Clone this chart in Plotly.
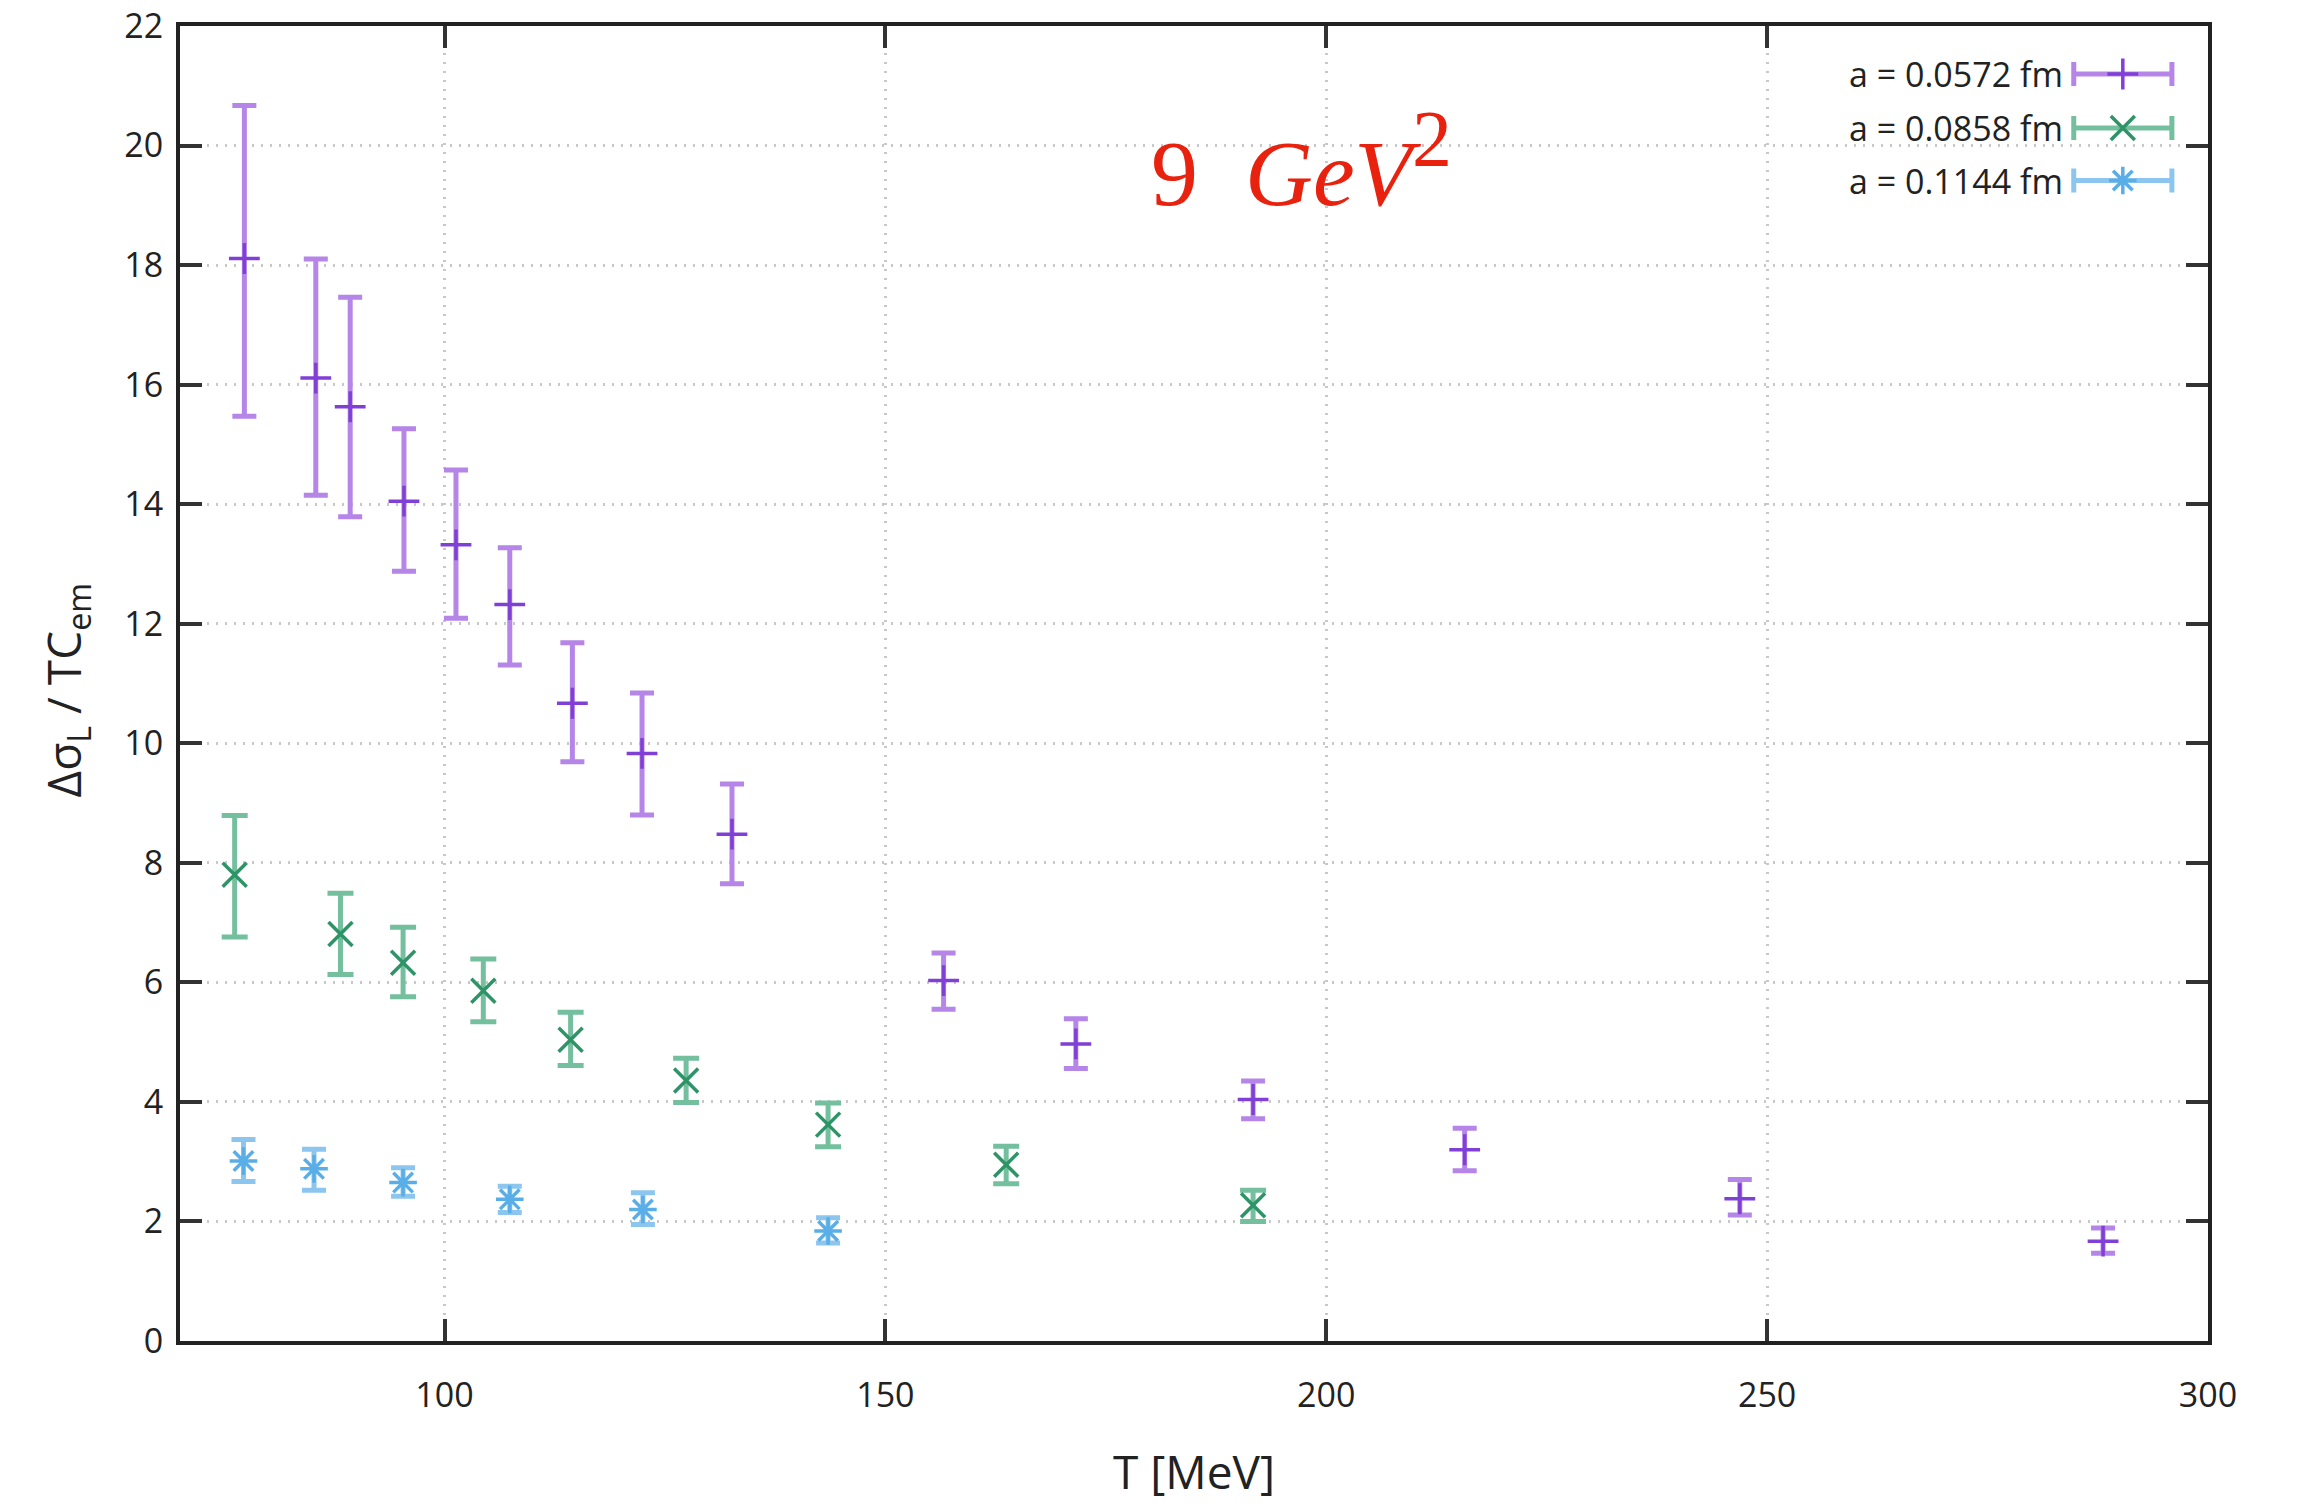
import plotly.graph_objects as go

# ---------------- data ----------------
series_names = ["a = 0.0572 fm", "a = 0.0858 fm", "a = 0.1144 fm"]

T_a0572 = [77.3, 85.4, 89.3, 95.4, 101.3, 107.4, 114.5, 122.4, 132.6, 156.6, 171.6, 191.7, 215.7, 246.9, 288.1]
y_a0572 = [18.11, 16.11, 15.63, 14.05, 13.32, 12.32, 10.67, 9.83, 8.48, 6.03, 4.97, 4.04, 3.20, 2.38, 1.67]
hi_a0572 = [20.67, 18.10, 17.46, 15.26, 14.57, 13.27, 11.68, 10.84, 9.32, 6.49, 5.39, 4.35, 3.56, 2.70, 1.89]
lo_a0572 = [15.47, 14.15, 13.79, 12.88, 12.09, 11.31, 9.69, 8.80, 7.65, 5.55, 4.56, 3.72, 2.85, 2.11, 1.47]

T_a0858 = [76.2, 88.2, 95.3, 104.4, 114.3, 127.4, 143.5, 163.7, 191.7]
y_a0858 = [7.80, 6.81, 6.33, 5.86, 5.04, 4.36, 3.62, 2.95, 2.27]
hi_a0858 = [8.79, 7.49, 6.92, 6.39, 5.50, 4.73, 3.98, 3.26, 2.52]
lo_a0858 = [6.76, 6.13, 5.76, 5.34, 4.61, 3.99, 3.25, 2.63, 2.00]

T_a1144 = [77.2, 85.2, 95.3, 107.4, 122.5, 143.5]
y_a1144 = [3.01, 2.88, 2.65, 2.37, 2.20, 1.84]
hi_a1144 = [3.37, 3.21, 2.90, 2.59, 2.48, 2.06]
lo_a1144 = [2.67, 2.52, 2.42, 2.15, 1.95, 1.64]

x_ticks = [100, 150, 200, 250, 300]
y_ticks = [0, 2, 4, 6, 8, 10, 12, 14, 16, 18, 20, 22]

# ---------------- style ----------------
bar_colors = ["#b585e8", "#74bf9e", "#8cc6ee"]
mark_colors = ["#8040d5", "#2e9468", "#5aaee8"]
symbols = ["cross-thin", "x-thin", "asterisk"]
msizes = [22, 24, 23]
cap_w = [12, 13, 12]
FONT = "Open Sans"

series = [
    (T_a0572, y_a0572, hi_a0572, lo_a0572),
    (T_a0858, y_a0858, hi_a0858, lo_a0858),
    (T_a1144, y_a1144, hi_a1144, lo_a1144),
]

fig = go.Figure()
for i, (T, y, hi, lo) in enumerate(series):
    fig.add_trace(go.Scatter(
        x=T, y=y, mode="markers", name=series_names[i], showlegend=False,
        marker=dict(symbol=symbols[i], size=msizes[i], color=mark_colors[i],
                    line=dict(width=3.5, color=mark_colors[i])),
        error_y=dict(type="data", symmetric=False,
                     array=[h - v for h, v in zip(hi, y)],
                     arrayminus=[v - l for l, v in zip(lo, y)],
                     color=bar_colors[i], thickness=5, width=cap_w[i]),
    ))

# legend samples (gnuplot style: text then sample) on an overlay [0,1] axis
leg_y = [0.9635, 0.9225, 0.8825]
leg_x = 0.958
for i in range(3):
    fig.add_trace(go.Scatter(
        x=[leg_x], y=[leg_y[i]], xaxis="x2", yaxis="y2", mode="markers",
        showlegend=False, hoverinfo="skip",
        marker=dict(symbol=symbols[i], size=msizes[i], color=mark_colors[i],
                    line=dict(width=3.5, color=mark_colors[i])),
        error_x=dict(type="constant", value=0.0242, color=bar_colors[i],
                     thickness=5, width=12),
    ))
    fig.add_annotation(xref="paper", yref="paper", x=0.9295, y=leg_y[i],
                       xanchor="right", yanchor="middle", showarrow=False,
                       text=series_names[i],
                       font=dict(family=FONT, size=34, color="#222222"))

axis_common = dict(
    showline=True, linecolor="#222222", linewidth=4, mirror="ticks",
    ticks="inside", ticklen=22, tickwidth=4, tickcolor="#333333",
    showgrid=True, gridcolor="#c8c8c8", gridwidth=3, griddash="2px,7px",
    zeroline=False, automargin=False,
    tickfont=dict(family=FONT, size=34, color="#222222"),
)

fig.update_layout(
    width=2300, height=1507,
    margin=dict(l=180, r=92, t=26, b=166, autoexpand=False),
    paper_bgcolor="white", plot_bgcolor="white",
    xaxis=dict(range=[70, 300], tickvals=x_ticks, ticklabelstandoff=21, **axis_common),
    yaxis=dict(range=[0, 22], tickvals=y_ticks, ticklabelstandoff=6, **axis_common),
    xaxis2=dict(overlaying="x", anchor="y2", range=[0, 1], visible=False, fixedrange=True),
    yaxis2=dict(overlaying="y", anchor="x2", range=[0, 1], visible=False, fixedrange=True),
    showlegend=False,
)

# axis titles
fig.add_annotation(xref="paper", yref="paper", x=0.5, y=-0.099, xanchor="center",
                   yanchor="middle", showarrow=False, text="T [MeV]",
                   font=dict(family=FONT, size=46, color="#222222"))
fig.add_annotation(xref="paper", yref="paper", x=-0.056, y=0.495, xanchor="center",
                   yanchor="middle", showarrow=False, textangle=-90,
                   text="Δσ<sub>L</sub> / TC<sub>em</sub>",
                   font=dict(family=FONT, size=46, color="#222222"))

# red label
fig.add_annotation(xref="paper", yref="paper", x=0.553, y=0.898, xanchor="center",
                   yanchor="middle", showarrow=False,
                   text="9&nbsp;&nbsp;<i>GeV</i><sup><span style='font-size:80px'>2</span></sup>",
                   font=dict(family="Liberation Serif", size=94, color="#e8220f"))

fig.write_html("out.html", config={"displayModeBar": False},
               post_script="document.body.style.margin='0';document.body.style.overflow='hidden';")
